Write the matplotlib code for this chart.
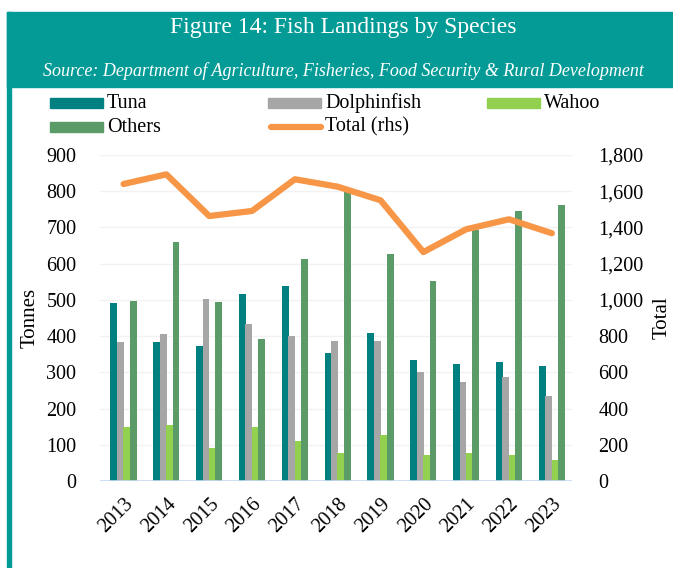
import matplotlib.pyplot as plt
import numpy as np
from matplotlib.patches import Rectangle
from matplotlib.lines import Line2D

years = ["2013", "2014", "2015", "2016", "2017", "2018", "2019", "2020", "2021", "2022", "2023"]
tuna = [492, 385, 374, 517, 538, 353, 409, 335, 322, 329, 317]
dolphinfish = [384, 405, 502, 433, 400, 387, 387, 301, 274, 286, 234]
wahoo = [150, 155, 91, 148, 111, 78, 128, 73, 78, 73, 59]
others = [498, 659, 494, 393, 612, 810, 627, 551, 692, 746, 761]
total = [1640, 1693, 1463, 1491, 1666, 1625, 1550, 1264, 1390, 1445, 1368]

series_names = ["Tuna", "Dolphinfish", "Wahoo", "Others"]
series_colors = ["#008080", "#A6A6A6", "#92D050", "#5B9B68"]
total_color = "#F79646"
header_color = "#049B96"

serif = ["Liberation Serif", "DejaVu Serif"]
plt.rcParams["font.family"] = serif

fig = plt.figure(figsize=(6.73, 5.68), dpi=100)
W, H = 673, 568

# header band and left border
fig.patches.append(Rectangle((7 / W, 1 - 87 / H), 1 - 7 / W, 75 / H,
                             transform=fig.transFigure, color=header_color, zorder=0))
fig.patches.append(Rectangle((7 / W, 0), 4 / W, 1 - 12 / H,
                             transform=fig.transFigure, color=header_color, zorder=0))
fig.text(343 / W, 1 - 28 / H, "Figure 14: Fish Landings by Species", color="white",
         fontsize=17, ha="center", va="center")
fig.text(343 / W, 1 - 71 / H,
         "Source: Department of Agriculture, Fisheries, Food Security & Rural Development",
         color="white", fontsize=13, style="italic", ha="center", va="center")

ax = fig.add_axes([100 / W, 1 - 481 / H, 472 / W, 326 / H])
ax2 = ax.twinx()

x = np.arange(len(years))
width = 0.16
series_values = [tuna, dolphinfish, wahoo, others]
for i, (vals, color) in enumerate(zip(series_values, series_colors)):
    ax.bar(x + (i - 1.5) * 0.15, vals, width=width, color=color, zorder=2)

ax2.plot(x, total, color=total_color, linewidth=4.5, solid_capstyle="round",
         solid_joinstyle="round", zorder=3)

ax.set_xlim(-0.55, 10.47)
ax.set_ylim(0, 900)
ax.set_yticks(range(0, 901, 100))
ax2.set_ylim(0, 1800)
ax2.set_yticks(range(0, 1801, 200))
ax2.set_yticklabels([f"{v:,}" for v in range(0, 1801, 200)])

ax.grid(axis="y", color="#F2F2F2", linewidth=1, zorder=0)
ax.set_axisbelow(True)
for a in (ax, ax2):
    for s in ("top", "left", "right", "bottom"):
        a.spines[s].set_visible(False)
ax.axhline(0, color="#C6D9F1", linewidth=1.2, zorder=4)

ax.tick_params(axis="y", length=0, pad=17, labelsize=14.5)
ax2.tick_params(axis="y", length=0, pad=19, labelsize=14.5)
ax.set_xticks(x)
ax.set_xticklabels(years, rotation=45, ha="right", rotation_mode="anchor", fontsize=14.5)
ax.tick_params(axis="x", length=0, pad=10)

ax.set_ylabel("Tonnes", fontsize=15)
ax.yaxis.set_label_coords(-0.127, 0.5)
ax2.set_ylabel("Total", fontsize=15, rotation=90)
ax2.yaxis.set_label_coords(1.17, 0.5)

# legend
leg_font = 14.5
entries = [
    ("Tuna", series_colors[0], 50, 103, "patch"),
    ("Dolphinfish", series_colors[1], 268, 103, "patch"),
    ("Wahoo", series_colors[2], 487, 103, "patch"),
    ("Others", series_colors[3], 50, 127, "patch"),
    ("Total (rhs)", total_color, 268, 127, "line"),
]
for label, color, px, py, kind in entries:
    if kind == "patch":
        fig.patches.append(Rectangle((px / W, 1 - (py + 5) / H), 53 / W, 10 / H,
                                     transform=fig.transFigure, color=color))
    else:
        fig.lines.append(Line2D([(px + 3) / W, (px + 53) / W], [1 - py / H, 1 - py / H],
                                transform=fig.transFigure, color=color, linewidth=4.5,
                                solid_capstyle="round"))
    fig.text((px + 57) / W, 1 - py / H, label, fontsize=leg_font, va="center", ha="left")

fig.savefig("out.png", dpi=100)
